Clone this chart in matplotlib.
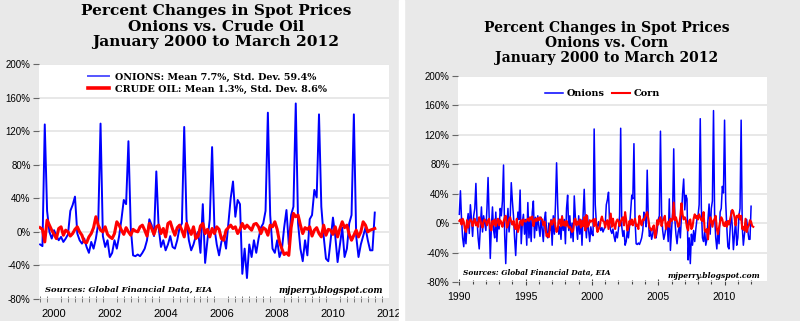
import numpy as np
import matplotlib.pyplot as plt
from matplotlib.patches import Rectangle

# monthly percent changes
# onions from Jan 2000 (left panel, also reused in right panel)
onions = [-15, -17, 128, 25, 0, -8, 2, -5, -10, -6, -12, -8,
          -3, 25, 32, 42, -2, -10, -14, -8, -18, -25, -12, -20,
          -8, 10, 129, -5, -18, -10, -30, -25, -10, -20, -5, 15,
          38, 33, 108, 5, -28, -29, -27, -29, -25, -20, -10, 15,
          8, -5, 72, 5, -18, -10, -22, -15, -5, -18, -20, -10,
          5, 10, 125, 15, -10, -22, -15, -5, 0, -25, 33, -37,
          -10, 15, 101, 5, -15, -28, -12, -5, -20, 10, 40, 60,
          18, 38, 33, -50, -20, -55, -15, -30, -10, -25, -8, 5,
          10, 25, 142, 20, -20, -25, -10, -30, -22, 5, 26, -15,
          20, 30, 153, 10, -20, -35, -10, -28, 15, 20, 50, 41,
          140, 30, -5, -32, -35, -10, 17, -5, -36, -15, 5, -30,
          -20, 10, 20, 140, -5, -30, -15, -5, 5, -10, -22, -22,
          23]

crude = [5, 3, -12, 14, 8, 2, -3, -8, 4, 6, -4, 2,
         0, -5, -2, 3, 6, 0, -4, -12, -13, -6, -2, 5,
         18, 8, 2, 0, 6, -3, -6, -8, -2, 12, 8, 2,
         -3, 5, 0, -4, 3, 1, 0, 6, 8, 2, -5, 10,
         4, -3, 6, 8, -2, 4, -6, 10, 12, 3, -4, 5,
         8, 2, -6, 10, 3, -3, 6, -8, -5, 7, 10, -2,
         3, -6, 4, -2, 6, 3, -8, -10, 2, 5, 8, 4,
         6, -2, 3, 10, 4, 8, 5, 2, 9, 10, 6, -2,
         5, 3, -4, 8, 6, 12, 3, -12, -20, -27, -25, -28,
         5, 22, 18, 20, 8, -2, 5, 3, 6, -5, 2, 5,
         -2, -6, 8, -4, 3, 2, -3, 6, -6, 4, 12, 5,
         8, -3, -10, -4, 2, -6, 0, 12, 8, 0, 2, 3,
         4]

# onions Jan 1990 - Dec 1999 (right panel only)
onions_90s = [12, 44, 5, -20, -32, -10, -28, 0, 13, -14, 25, 5,
              -18, 10, 20, 54, 5, -20, -35, -5, 22, -12, 10, 0,
              -10, 20, 62, 8, -48, -5, 22, -10, -20, 15, -25, 5,
              -8, 20, 10, 30, 79, -15, -55, -5, 20, -12, 5, 55,
              30, 10, -20, -44, -10, 15, 5, 45, -28, 0, 12, -15,
              5, -30, 28, -20, 5, -25, 15, 30, -20, 8, -10, 10,
              -5, -18, 8, -8, -25, 5, 15, -12, -20, 0, -10, 5,
              -30, 10, -15, 25, 82, 25, -15, -5, -22, 10, -10, 5,
              -28, 20, 38, -10, 10, -20, 0, -25, 37, 8, -5, -22,
              10, -15, 5, -30, 12, 46, 0, -20, 10, -10, -25, -5]

corn = [3, 5, -2, 6, 2, -8, -12, 4, -6, 2, 5, 3,
        -4, 2, 6, -3, 1, -5, 8, 4, -2, -6, 3, 5,
        2, -3, 4, 6, -7, -10, 3, -2, 5, -4, 2, 6,
        -3, 4, 1, -5, 2, 7, 10, -6, -3, 5, 8, 2,
        -2, 3, -5, -8, 6, -12, -6, 2, 4, -3, 5, 3,
        2, 4, 6, 3, 8, 5, 9, -4, 2, 6, 3, 7,
        4, 8, 6, 5, -3, 2, -8, -18, -15, -19, -6, 3,
        -2, 4, 6, -5, -12, -8, 3, 5, -4, 9, -3, 2,
        -4, 3, -2, -6, -5, -8, -12, -10, 4, 6, -3, 2,
        -2, 5, -6, 3, -4, 8, -10, 11, -5, -3, 4, 2,
        3, 5, -4, 6, -3, -12, -8, -5, 4, 9, 3, 2,
        -6, 2, 4, -8, 3, 13, -5, 6, -3, -8, 2, 5,
        3, -4, 2, 6, 8, -3, 15, 4, -10, -6, 3, -2,
        5, -3, 2, 6, -4, -2, -8, 10, 2, -3, 5, 4,
        8, 12, 15, 6, -5, -8, -10, -6, -3, -20, -15, 4,
        -2, 5, 8, -4, 3, 6, 10, -8, -3, 2, -5, 6,
        3, 5, 28, 4, 8, 2, -5, -3, 10, 27, 12, 5,
        8, 4, -6, -10, 3, 5, -8, -5, 6, 12, 7, 10,
        5, 12, 8, 4, 3, 15, -10, -12, -8, -22, -5, 8,
        4, -5, 3, 6, 10, -8, -15, -6, 2, 8, 5, -3,
        -4, 2, -5, 3, -2, 5, 12, 18, 15, 8, -3, 10,
        8, 12, 5, 10, -8, -5, -10, 6, -12, -6, -3, 4,
        2, -4, -5]

left_title = "Percent Changes in Spot Prices\nOnions vs. Crude Oil\nJanuary 2000 to March 2012"
right_title = "Percent Changes in Spot Prices\nOnions vs. Corn\nJanuary 2000 to March 2012"
onion_label = "ONIONS: Mean 7.7%, Std. Dev. 59.4%"
crude_label = "CRUDE OIL: Mean 1.3%, Std. Dev. 8.6%"
source = "Sources: Global Financial Data, EIA"
blog = "mjperry.blogspot.com"
yticks = list(range(-80, 201, 40))

BLUE = '#0000ff'
RED = '#ff0000'
GRID = '#e4e4e4'

fig = plt.figure(figsize=(8, 3.21), dpi=100, facecolor='#e9e9e9')
# thin white gap between the two pasted charts
fig.patches.append(Rectangle((399 / 800, 0), 5 / 800, 1, transform=fig.transFigure,
                             color='white', zorder=0))

ax1 = fig.add_axes([39 / 800, 1 - 299 / 321, 350 / 800, 235 / 321])
ax2 = fig.add_axes([458 / 800, 1 - 282 / 321, 309 / 800, 206 / 321])

for ax in (ax1, ax2):
    ax.set_facecolor('white')
    for s in ax.spines.values():
        s.set_visible(False)
    ax.set_ylim(-80, 200)
    ax.set_yticks(yticks)
    ax.set_yticklabels([f"{v}%" for v in yticks], family='Liberation Sans')
    ax.yaxis.grid(True, color=GRID, lw=1.2)
    ax.set_axisbelow(True)
    ax.tick_params(axis='y', direction='out', length=4, width=0.8, color='#666666',
                   labelsize=7, pad=2)

# left panel: onions vs crude oil
t1 = 2000 + np.arange(len(onions)) / 12
t1c = 2000 + np.arange(len(crude)) / 12
ax1.plot(t1, onions, color=BLUE, lw=1.4, label=onion_label, zorder=2)
ax1.plot(t1c, crude, color=RED, lw=2.2, label=crude_label, zorder=3)
ax1.set_xlim(1999.96, 2012.51)
years = list(range(2000, 2013, 2))
ax1.set_xticks([y + 0.5 for y in years])
ax1.set_xticklabels([str(y) for y in years], family='Liberation Sans')
ax1.set_xticks(np.arange(2000, 2012.6, 0.25), minor=True)
ax1.tick_params(axis='x', which='major', length=0, labelsize=8, pad=7)
ax1.tick_params(axis='x', which='minor', direction='inout', length=4, width=0.7,
                color='#777777')
leg = ax1.legend(loc='upper left', bbox_to_anchor=(0.115, 1.0), frameon=False,
                 handlelength=2.2, handletextpad=0.6, labelspacing=0.3,
                 prop={'family': 'DejaVu Serif', 'weight': 'bold', 'size': 6.9})
leg.get_lines()[0].set_color('#5555ff')
leg.get_lines()[0].set_linewidth(1.4)
leg.get_lines()[1].set_linewidth(2.6)
ax1.text(0.017, 0.04, source, transform=ax1.transAxes, fontsize=6, family='DejaVu Serif',
         style='italic', weight='bold', va='center', ha='left')
ax1.text(0.983, 0.035, blog, transform=ax1.transAxes, fontsize=6.2, family='DejaVu Serif',
         style='italic', weight='bold', va='center', ha='right')
fig.text(0.27, 1 - 4 / 321, left_title, ha='center', va='top', fontsize=11.1,
         family='DejaVu Serif', weight='bold', linespacing=1.15)

# right panel: onions vs corn
right_onions = onions_90s + onions
t2 = 1990 + np.arange(len(right_onions)) / 12
t2c = 1990 + np.arange(len(corn)) / 12
ax2.plot(t2, right_onions, color=BLUE, lw=1.1, label='Onions', zorder=2)
ax2.plot(t2c, corn, color=RED, lw=1.5, label='Corn', zorder=3)
ax2.set_xlim(1989.9, 2013.2)
ax2.set_xticks(range(1990, 2011, 5))
ax2.set_xticklabels([str(y) for y in range(1990, 2011, 5)], family='Liberation Sans')
ax2.set_xticks(range(1990, 2013), minor=True)
ax2.tick_params(axis='x', which='major', direction='inout', length=5, width=0.8,
                color='#444444', labelsize=7.5, pad=5)
ax2.tick_params(axis='x', which='minor', direction='inout', length=3, width=0.8,
                color='#444444')
ax2.legend(loc='center', bbox_to_anchor=(0.468, 0.913), ncol=2, frameon=False,
           handlelength=1.8, handletextpad=0.4, columnspacing=0.8,
           prop={'family': 'DejaVu Serif', 'weight': 'bold', 'size': 7})
ax2.text(0.016, 0.045, source, transform=ax2.transAxes, fontsize=5.3, family='DejaVu Serif',
         style='italic', weight='bold', va='center', ha='left')
ax2.text(0.98, 0.03, blog, transform=ax2.transAxes, fontsize=5.5, family='DejaVu Serif',
         style='italic', weight='bold', va='center', ha='right')
fig.text(0.758, 1 - 21 / 321, right_title, ha='center', va='top', fontsize=10,
         family='DejaVu Serif', weight='bold', linespacing=1.1)

fig.savefig('out.png', dpi=100, facecolor=fig.get_facecolor())
